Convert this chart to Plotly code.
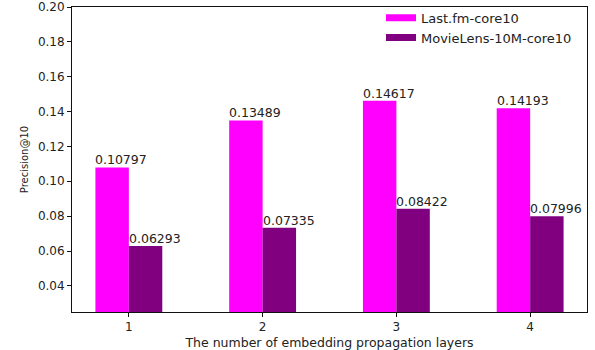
import plotly.graph_objects as go

layers = [1, 2, 3, 4]
lastfm = [0.10797, 0.13489, 0.14617, 0.14193]
movielens = [0.06293, 0.07335, 0.08422, 0.07996]
series_names = ["Last.fm-core10", "MovieLens-10M-core10"]
series_colors = ["#ff00ff", "#800080"]
y_ticks = [0.04, 0.06, 0.08, 0.10, 0.12, 0.14, 0.16, 0.18, 0.20]

bar_w = 0.25
font = "DejaVu Sans"
ink = "#222222"

fig = go.Figure()
annotations = []
for i, (name, vals, col) in enumerate(zip(series_names, [lastfm, movielens], series_colors)):
    offset = -bar_w + i * bar_w
    fig.add_trace(go.Bar(
        x=layers, y=vals, width=bar_w, offset=offset,
        marker=dict(color=col, line=dict(width=0)),
        showlegend=False, name=name,
    ))
    # legend swatch as a thick line so the key reads as a wide, flat patch
    fig.add_trace(go.Scatter(
        x=[None], y=[None], mode="lines", name=name,
        line=dict(color=col, width=7),
    ))
    for x, v in zip(layers, vals):
        annotations.append(dict(
            x=x + offset, y=v, xref="x", yref="y",
            text=f"{v:.5f}", showarrow=False,
            xanchor="left", yanchor="bottom", yshift=-2, xshift=-2,
            font=dict(family=font, size=12.5, color=ink),
        ))

axis_common = dict(
    showline=True, linecolor="#111111", linewidth=1, mirror=True,
    ticks="outside", ticklen=4, tickwidth=1, tickcolor="#111111",
    showgrid=False, zeroline=False,
    tickfont=dict(family=font, size=12, color=ink),
)

fig.update_layout(
    width=595, height=350,
    margin=dict(l=72, r=8, t=7, b=38, autoexpand=False),
    paper_bgcolor="white", plot_bgcolor="white",
    annotations=annotations,
    xaxis=dict(
        range=[0.575, 4.425], tickvals=layers, ticktext=[str(v) for v in layers],
        title=dict(text="The number of embedding propagation layers",
                   font=dict(family=font, size=12.5, color=ink), standoff=4),
        **axis_common,
    ),
    yaxis=dict(
        range=[0.025, 0.2], tickvals=y_ticks, ticktext=[f"{t:.2f}" for t in y_ticks],
        title=dict(text="Precision@10", font=dict(family=font, size=10, color=ink), standoff=7),
        **axis_common,
    ),
    legend=dict(
        x=0.6, y=1.014, xanchor="left", yanchor="top",
        bgcolor="rgba(255,255,255,0)", borderwidth=0,
        font=dict(family=font, size=13, color=ink),
        itemwidth=30, tracegroupgap=0,
    ),
)

fig.write_html("out.html")
